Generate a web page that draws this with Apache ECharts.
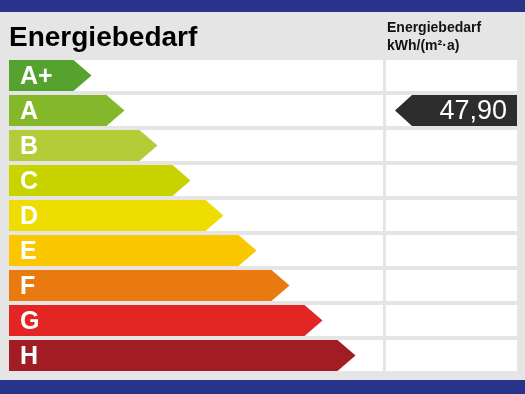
<!DOCTYPE html>
<html>
<head>
<meta charset="utf-8">
<script src="https://cdn.jsdelivr.net/npm/echarts@6/dist/echarts.min.js"></script>
<style>
html,body{margin:0;padding:0;background:#e5e5e5;}
#chart{width:525px;height:394px;}
</style>
</head>
<body>
<div id="chart"></div>
<script>
// Energy classes (top to bottom)
const categories = ['A+', 'A', 'B', 'C', 'D', 'E', 'F', 'G', 'H'];
// Arrow length level of each class
const levels = [1, 2, 3, 4, 5, 6, 7, 8, 9];
// Class colours
const colors = ['#56a22e', '#84b82a', '#b3cc38', '#c9d300', '#efdc00', '#fbc700', '#e97a10', '#e32523', '#a21d23'];
// Energy demand kWh/(m²·a), shown in the row of its class
const values = [null, 47.90, null, null, null, null, null, null, null];

const FONT = '"Liberation Sans", Arial, sans-serif';

const chart = echarts.init(document.getElementById('chart'), null, {renderer: 'canvas'});

function arrowItem(params, api) {
  const cs = params.coordSys;
  const lvl = api.value(0);
  const ci = api.value(1);
  const tip = api.coord([lvl, ci]);
  const band = api.size([0, 1])[1];
  const h = band - 4;
  const top = tip[1] - h / 2;
  const depth = 18;
  const idx = params.dataIndex;
  return {
    type: 'group',
    children: [
      {type: 'rect', shape: {x: cs.x, y: top, width: cs.width, height: h}, style: {fill: '#ffffff'}},
      {type: 'polygon', shape: {points: [[cs.x, top], [tip[0] - depth, top], [tip[0], tip[1]], [tip[0] - depth, top + h], [cs.x, top + h]]},
        style: {fill: colors[idx]}},
      {type: 'text', x: cs.x + 11, y: tip[1] + 1.5,
        style: {text: categories[idx], fill: '#ffffff', font: 'bold 25px ' + FONT, verticalAlign: 'middle', align: 'left'}}
    ]
  };
}

function valueItem(params, api) {
  const cs = params.coordSys;
  const ci = api.value(1);
  const c = api.coord([0, ci]);
  const band = api.size([0, 1])[1];
  const h = band - 4;
  const top = c[1] - h / 2;
  const v = values[params.dataIndex];
  const children = [
    {type: 'rect', shape: {x: cs.x, y: top, width: cs.width, height: h}, style: {fill: '#ffffff'}}
  ];
  if (v !== null && v !== undefined) {
    const right = cs.x + cs.width;
    const tipX = cs.x + 9;
    children.push({type: 'polygon', shape: {points: [[tipX, c[1]], [tipX + 17, top], [right, top], [right, top + h], [tipX + 17, top + h]]},
      style: {fill: '#2d2d2d'}});
    children.push({type: 'text', x: right - 10, y: c[1] + 1.5,
      style: {text: v.toFixed(2).replace('.', ','), fill: '#ffffff', font: '27px ' + FONT, align: 'right', verticalAlign: 'middle'}});
  }
  return {type: 'group', children: children};
}

const option = {
  backgroundColor: '#e5e5e5',
  animation: false,
  grid: [
    {left: 9, top: 58, width: 374, height: 315},
    {left: 386, top: 58, width: 131, height: 315}
  ],
  xAxis: [
    {gridIndex: 0, type: 'value', min: -1.5, max: 9.833, show: false},
    {gridIndex: 1, type: 'value', min: 0, max: 1, show: false}
  ],
  yAxis: [
    {gridIndex: 0, type: 'category', data: categories, inverse: true, show: false},
    {gridIndex: 1, type: 'category', data: categories, inverse: true, show: false}
  ],
  graphic: [
    {type: 'rect', left: 0, top: 0, shape: {width: 525, height: 12}, style: {fill: '#29338b'}},
    {type: 'rect', left: 0, top: 380, shape: {width: 525, height: 14}, style: {fill: '#29338b'}},
    {type: 'text', x: 9, y: 38, style: {text: 'Energiebedarf', font: 'bold 28px ' + FONT, fill: '#000000', verticalAlign: 'middle'}},
    {type: 'text', x: 387, y: 28.5, style: {text: 'Energiebedarf', font: 'bold 14px ' + FONT, fill: '#111111', verticalAlign: 'middle'}},
    {type: 'text', x: 387, y: 46.5, style: {text: 'kWh/(m²·a)', font: 'bold 14px ' + FONT, fill: '#111111', verticalAlign: 'middle'}}
  ],
  series: [
    {
      type: 'custom', xAxisIndex: 0, yAxisIndex: 0,
      renderItem: arrowItem,
      data: categories.map((c, i) => [levels[i], i])
    },
    {
      type: 'custom', xAxisIndex: 1, yAxisIndex: 1,
      renderItem: valueItem,
      data: categories.map((c, i) => [0, i])
    }
  ]
};
chart.setOption(option);
</script>
</body>
</html>
